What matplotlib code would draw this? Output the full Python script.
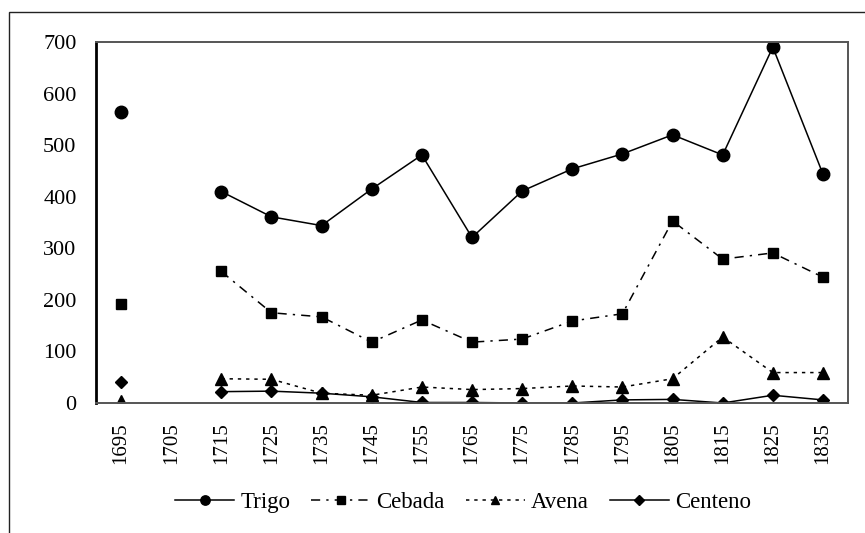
import numpy as np
import matplotlib
matplotlib.use("Agg")
import matplotlib.pyplot as plt
from matplotlib.patches import Rectangle

years = ["1695", "1705", "1715", "1725", "1735", "1745", "1755", "1765",
         "1775", "1785", "1795", "1805", "1815", "1825", "1835"]
nan = np.nan
trigo = [564, nan, 410, 361, 344, 415, 481, 321, 411, 454, 483, 520, 481, 690, 444]
cebada = [192, nan, 255, 175, 167, 118, 161, 118, 124, 159, 173, 353, 279, 291, 244]
avena = [3, nan, 47, 46, 19, 15, 31, 26, 28, 33, 31, 47, 128, 59, 59]
centeno = [40, nan, 22, 23, 19, 12, 1, 1, 0, 0, 6, 7, 0, 15, 6]
yticks = [0, 100, 200, 300, 400, 500, 600, 700]

plt.rcParams['font.family'] = ['Liberation Serif', 'DejaVu Serif']

fig = plt.figure(figsize=(8.65, 5.33), dpi=100)
W, H = 865, 533
fig.patches.append(Rectangle((9 / W, -0.1), 1.2, 1.1 - 12 / H,
                             transform=fig.transFigure, fill=False,
                             edgecolor='#222222', linewidth=1.0))

ax = fig.add_axes([96 / W, 1 - 403 / H, (848 - 96) / W, (403 - 42) / H])
x = np.arange(len(years))

ax.plot(x, trigo, color='black', lw=1.1, ls='-', marker='o', ms=9, label='Trigo')
ax.plot(x, cebada, color='black', lw=1.1, ls=(0, (6, 4, 1.5, 4)), marker='s', ms=7, label='Cebada')
ax.plot(x, avena, color='black', lw=1.1, ls=(0, (2.2, 3.2)), marker='^', ms=8.5, label='Avena')
ax.plot(x, centeno, color='black', lw=1.1, ls='-', marker='D', ms=6.5, label='Centeno')

ax.set_xlim(-0.5, len(years) - 0.5)
ax.set_ylim(0, 700)
ax.set_yticks(yticks)
ax.set_yticklabels([str(v) for v in yticks], fontsize=16)
ax.set_xticks(x)
ax.set_xticklabels(years, rotation=90, fontsize=15)
ax.tick_params(axis='both', length=0, pad=14)

for s in ['top', 'right', 'bottom']:
    ax.spines[s].set_color('#555555')
    ax.spines[s].set_linewidth(1.4)
ax.spines['left'].set_color('black')
ax.spines['left'].set_linewidth(2.0)

leg = ax.legend(loc='center', bbox_to_anchor=(463 / W, 1 - 502 / H),
                bbox_transform=fig.transFigure, ncol=4, frameon=False,
                fontsize=16.5, handlelength=2.6, handletextpad=0.26,
                columnspacing=0.9, markerscale=0.75)

fig.savefig('out.png', dpi=100)
